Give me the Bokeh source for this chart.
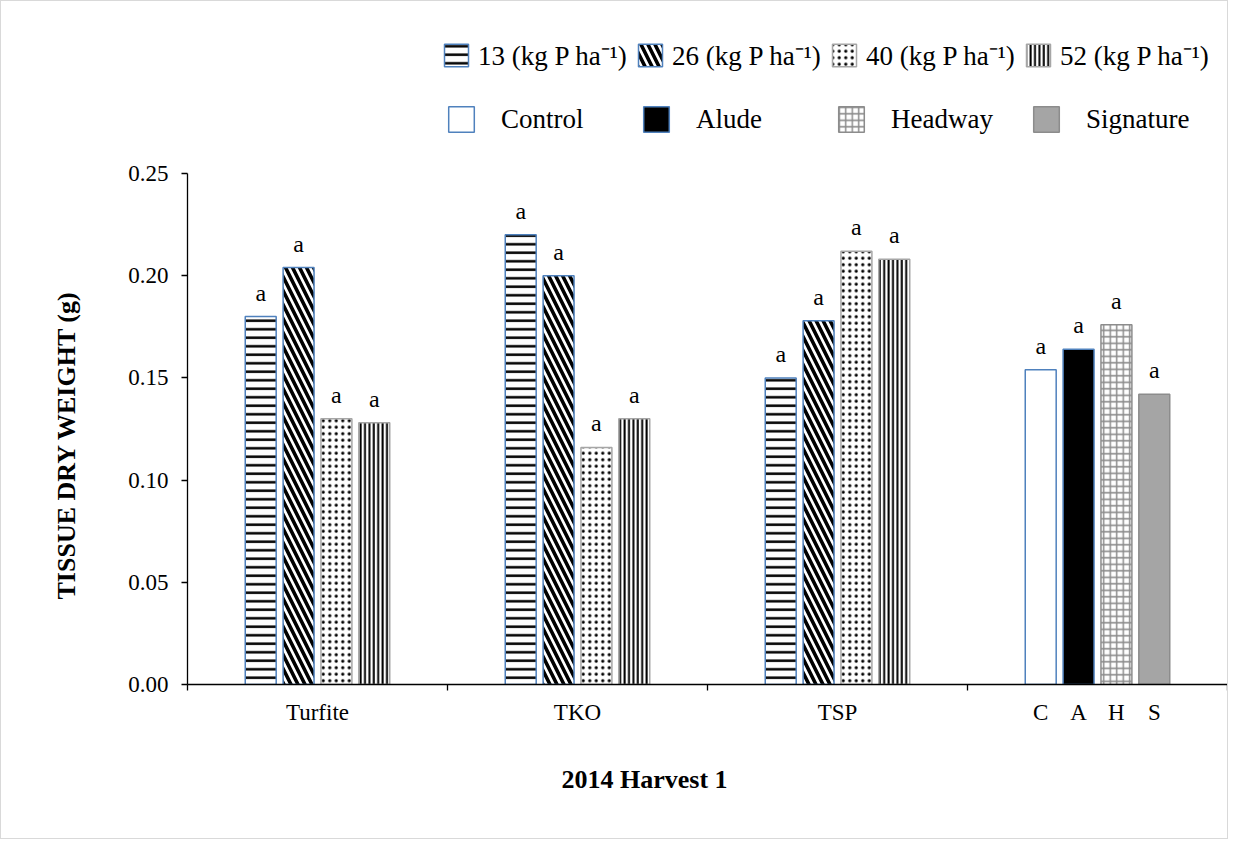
from bokeh.plotting import figure
from bokeh.models import (Range1d, FixedTicker, Legend, LegendItem, Title,
                          ColumnDataSource, NumeralTickFormatter)
from bokeh.embed import file_html
from bokeh.resources import INLINE
from bokeh.core.properties import value

# ---------------- data ----------------
fertilizers = ["Turfite", "TKO", "TSP"]
rate_labels = ["13 (kg P ha\u207b\u00b9)", "26 (kg P ha\u207b\u00b9)",
               "40 (kg P ha\u207b\u00b9)", "52 (kg P ha\u207b\u00b9)"]
rate13 = [0.180, 0.220, 0.150]
rate26 = [0.204, 0.200, 0.178]
rate40 = [0.130, 0.116, 0.212]
rate52 = [0.128, 0.130, 0.208]
rate_letters = ["a", "a", "a"]

controls = ["Control", "Alude", "Headway", "Signature"]
control_ticks = ["C", "A", "H", "S"]
control_values = [0.154, 0.164, 0.176, 0.142]
control_letters = ["a", "a", "a", "a"]

y_ticks = [0.0, 0.05, 0.10, 0.15, 0.20, 0.25]
x_title = "2014 Harvest 1"
y_title = "TISSUE DRY WEIGHT (g)"

# ---------------- styles / layout ----------------
FONT = "Liberation Serif"
BLUE = "#4f81bd"
GREY = "#a6a6a6"
offsets = [-0.2184, -0.0728, 0.0728, 0.2184]
bar_w = 0.119

rate_styles = [
    dict(hatch_pattern="horizontal_line", hatch_scale=8.5, hatch_weight=2.5, line_color=BLUE),
    dict(hatch_pattern="left_diagonal_line", hatch_scale=14, hatch_weight=3.6, line_color=BLUE),
    dict(hatch_pattern="dot", hatch_scale=6.5, hatch_weight=0.5, line_color=GREY),
    dict(hatch_pattern="vertical_line", hatch_scale=4.4, hatch_weight=2, line_color=GREY),
]
ctrl_fill = ["white", "black", "white", "#a5a5a5"]
ctrl_line = [BLUE, BLUE, "#8c8c8c", "#8c8c8c"]
ctrl_hatch = [" ", " ", "+", " "]
ctrl_hatch_color = ["black", "black", "#8c8c8c", "black"]

W, H = 1228, 839
FRAME_L, FRAME_R = 186, 1226
FRAME_H = 683          # frame spans figure y 0..683
AXIS_TOP_PX = 172      # y = 0.25 sits 172 px below the figure top
y_top = y_ticks[-1] * FRAME_H / (FRAME_H - AXIS_TOP_PX)

p = figure(width=W, height=H, x_range=Range1d(0, 4), y_range=Range1d(0, y_top),
           output_backend="svg", toolbar_location=None,
           min_border_left=FRAME_L, min_border_right=W - FRAME_R, min_border_top=0,
           min_border_bottom=H - FRAME_H)
p.styles = {"border": "1px solid #d9d9d9"}
p.xgrid.visible = False
p.ygrid.visible = False
p.outline_line_color = None

# bars
rate_series = [rate13, rate26, rate40, rate52]
rate_renderers = []
for k, vals in enumerate(rate_series):
    xs = [i + 0.5 + offsets[k] for i in range(len(fertilizers))]
    r = p.vbar(x=xs, top=vals, bottom=0, width=bar_w, fill_color="white",
               hatch_color="black", line_width=1.5, **rate_styles[k])
    rate_renderers.append(r)
    p.text(x=xs, y=vals, text=rate_letters, y_offset=-24, text_align="center",
           text_baseline="alphabetic", text_font=value(FONT), text_font_size="24px",
           text_color="black")

ctrl_x = [3.5 + o for o in offsets]
src = ColumnDataSource(dict(x=ctrl_x, top=control_values, fill=ctrl_fill, line=ctrl_line,
                            hatch=ctrl_hatch, hcol=ctrl_hatch_color, lab=control_letters))
ctrl_r = p.vbar(x="x", top="top", bottom=0, width=bar_w, fill_color="fill", line_color="line",
                line_width=1.5, hatch_pattern="hatch", hatch_color="hcol", hatch_scale=6.5,
                hatch_weight=1.5, source=src)
p.text(x="x", y="top", text="lab", y_offset=-24, text_align="center",
       text_baseline="alphabetic", text_font=value(FONT), text_font_size="24px",
       text_color="black", source=src)

# y axis
ya = p.yaxis[0]
ya.bounds = (y_ticks[0], y_ticks[-1])
ya.ticker = FixedTicker(ticks=y_ticks)
ya.formatter = NumeralTickFormatter(format="0.00")
ya.major_label_text_font = FONT
ya.major_label_text_font_size = "23px"
ya.major_label_text_color = "black"
ya.major_tick_out = 6
ya.major_tick_in = 0
ya.minor_tick_line_color = None
ya.major_label_standoff = 13
ya.axis_line_width = 1.3
ya.major_tick_line_width = 1.3

# x axis: labels at group centres / control bars, ticks at boundaries
xt = [round(i + 0.5, 4) for i in range(len(fertilizers))] + [round(x, 4) for x in ctrl_x]
xl = fertilizers + control_ticks
xa = p.xaxis[0]
xa.ticker = FixedTicker(ticks=xt, minor_ticks=[0, 1, 2, 3, 4])
xa.major_label_overrides = {t: l for t, l in zip(xt, xl)}
xa.major_tick_line_color = None
xa.major_tick_out = 0
xa.major_tick_in = 0
xa.minor_tick_out = 6
xa.minor_tick_in = 0
xa.minor_tick_line_color = "black"
xa.minor_tick_line_width = 1.3
xa.axis_line_width = 1.3
xa.major_label_standoff = 9
xa.major_label_text_font = FONT
xa.major_label_text_font_size = "23px"
xa.major_label_text_color = "black"

# axis titles
p.add_layout(Title(text=x_title, align="left", offset=374, standoff=71,
                   text_font=FONT, text_font_style="bold", text_font_size="26px",
                   text_color="black"), "below")
p.add_layout(Title(text=y_title, align="left", offset=85, standoff=88,
                   vertical_align="middle",
                   text_font=FONT, text_font_style="bold", text_font_size="26px",
                   text_color="black"), "left")

# legends
common = dict(orientation="horizontal", padding=0, margin=0, border_line_color=None,
              background_fill_alpha=0, label_text_font=FONT, label_text_font_size="27px",
              label_text_color="black", label_text_baseline="middle")
leg1 = Legend(items=[LegendItem(label=rate_labels[k], renderers=[rate_renderers[k]])
                     for k in range(4)],
              location=(254, 611), glyph_width=30, glyph_height=28, label_standoff=7,
              label_width=150, spacing=7, **common)
leg2 = Legend(items=[LegendItem(label=controls[i], renderers=[ctrl_r], index=i)
                     for i in range(4)],
              location=(258, 549), glyph_width=32, glyph_height=32, label_standoff=24,
              label_width=130, spacing=9, **common)
p.add_layout(leg1)
p.add_layout(leg2)

open("out.html", "w").write(file_html(p, INLINE))
